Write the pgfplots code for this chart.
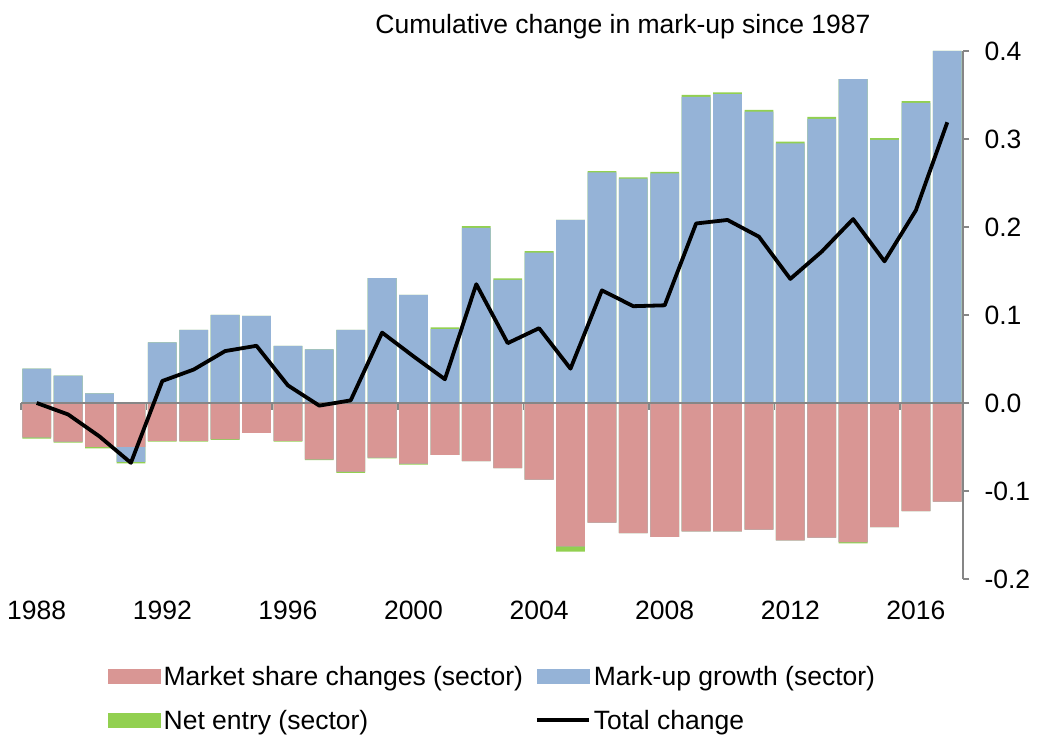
\documentclass[border=0pt]{standalone}
\usepackage{fontspec}
\setmainfont{Liberation Sans}
\usepackage{pgfplots}
\usepackage{pgfplotstable}
\pgfplotsset{compat=1.18}
\definecolor{msred}{HTML}{D99694}
\definecolor{mublue}{HTML}{95B3D7}
\definecolor{negreen}{HTML}{92D050}
\definecolor{axgray}{HTML}{868686}
\newcommand\fs{\fontsize{26.5pt}{31pt}\selectfont}

% i = position (0 = 1988), total change, market share, mark-up growth, net entry
\pgfplotstableread{
i year T R B G
0 1988 0.000 -0.039 0.039 -0.0015
1 1989 -0.013 -0.044 0.031 -0.001
2 1990 -0.038 -0.050 0.011 -0.0015
3 1991 -0.068 -0.050 -0.017 -0.0015
4 1992 0.025 -0.043 0.069 -0.001
5 1993 0.038 -0.043 0.083 -0.001
6 1994 0.059 -0.041 0.100 -0.001
7 1995 0.065 -0.034 0.099 0
8 1996 0.020 -0.043 0.065 -0.001
9 1997 -0.003 -0.064 0.061 -0.001
10 1998 0.003 -0.078 0.083 -0.0015
11 1999 0.080 -0.062 0.142 -0.001
12 2000 0.053 -0.069 0.123 -0.001
13 2001 0.027 -0.059 0.084 0.002
14 2002 0.135 -0.066 0.199 0.002
15 2003 0.068 -0.074 0.140 0.0015
16 2004 0.085 -0.087 0.171 0.0015
17 2005 0.039 -0.163 0.208 -0.006
18 2006 0.128 -0.136 0.262 0.0015
19 2007 0.110 -0.148 0.255 0.0015
20 2008 0.111 -0.152 0.261 0.0015
21 2009 0.204 -0.146 0.348 0.002
22 2010 0.208 -0.146 0.351 0.002
23 2011 0.189 -0.144 0.331 0.002
24 2012 0.141 -0.156 0.295 0.002
25 2013 0.172 -0.153 0.323 0.002
26 2014 0.209 -0.158 0.368 -0.0015
27 2015 0.161 -0.141 0.299 0.002
28 2016 0.219 -0.123 0.341 0.002
29 2017 0.319 -0.112 0.400 0
}\data

\pgfplotsset{
  mybar/.style={ybar, bar width=28.8pt, bar shift=0pt, draw=none, forget plot},
}

\begin{document}
\begin{tikzpicture}
\begin{axis}[
  scale only axis, width=942pt, height=528pt,
  xmin=-0.5, xmax=29.5, ymin=-0.2, ymax=0.4,
  clip=false,
  axis x line*=bottom, x axis line style={draw=none},
  axis y line*=right, y axis line style={draw=axgray, line width=1.5pt, -},
  xtick={0,4,8,12,16,20,24,28},
  xticklabels={1988,1992,1996,2000,2004,2008,2012,2016},
  major x tick style={draw=none},
  ytick={-0.2,-0.1,0,0.1,0.2,0.3,0.4},
  yticklabels={-0.2,-0.1,0.0,0.1,0.2,0.3,0.4},
  major y tick style={draw=axgray, line width=1.2pt},
  tick align=outside, major tick length=6pt,
  tick label style={font=\fs},
  xticklabel style={yshift=-12pt},
  yticklabel style={xshift=12pt},
  legend columns=2, legend cell align=left,
  legend style={at={(0.0924,-0.161)}, anchor=north west, draw=none, fill=none,
    font=\fs, inner sep=0pt, nodes={inner xsep=3pt, inner ysep=2pt},
    /tikz/every even column/.append style={column sep=9pt},
    row sep=19pt},
]
% positive side
\addplot[mybar, fill=negreen] table[x=i, y expr={max(\thisrow{B},0)+max(\thisrow{G},0)}] {\data};
\addplot[mybar, fill=mublue] table[x=i, y expr={max(\thisrow{B},0)}] {\data};
% negative side
\addplot[mybar, fill=negreen] table[x=i, y expr={\thisrow{R}+min(\thisrow{B},0)+min(\thisrow{G},0)}] {\data};
\addplot[mybar, fill=mublue] table[x=i, y expr={\thisrow{R}+min(\thisrow{B},0)}] {\data};
\addplot[mybar, fill=msred] table[x=i, y=R] {\data};
% zero line and its ticks
\draw[axgray, line width=2pt] (axis cs:-0.5,0) -- (axis cs:29.5,0);
\pgfplotsinvokeforeach{-0.5,3.5,7.5,11.5,15.5,19.5,23.5,27.5}{
  \draw[axgray, line width=1.5pt] (axis cs:#1,0) -- (axis cs:#1,-0.008);
}
\addplot[forget plot, black, line width=3.8pt, line join=round, mark=none] table[x=i, y=T] {\data};

\addlegendimage{legend image code/.code={\fill[msred] (0pt,-7pt) rectangle (52pt,7pt);}}
\addlegendentry{Market share changes (sector)}
\addlegendimage{legend image code/.code={\fill[mublue] (0pt,-7pt) rectangle (52pt,7pt);}}
\addlegendentry{Mark-up growth (sector)}
\addlegendimage{legend image code/.code={\fill[negreen] (0pt,-7pt) rectangle (52pt,7pt);}}
\addlegendentry{Net entry (sector)}
\addlegendimage{legend image code/.code={\draw[black, line width=3.8pt] (0pt,0pt) -- (52pt,0pt);}}
\addlegendentry{Total change}

\node[font=\fs, anchor=base] at (rel axis cs:0.6390,1.034) {Cumulative change in mark-up since 1987};
\end{axis}
\pgfresetboundingbox
\path (current axis.south west) ++(-21pt,-159pt) rectangle ++(1037pt,738pt);
\end{tikzpicture}
\end{document}
